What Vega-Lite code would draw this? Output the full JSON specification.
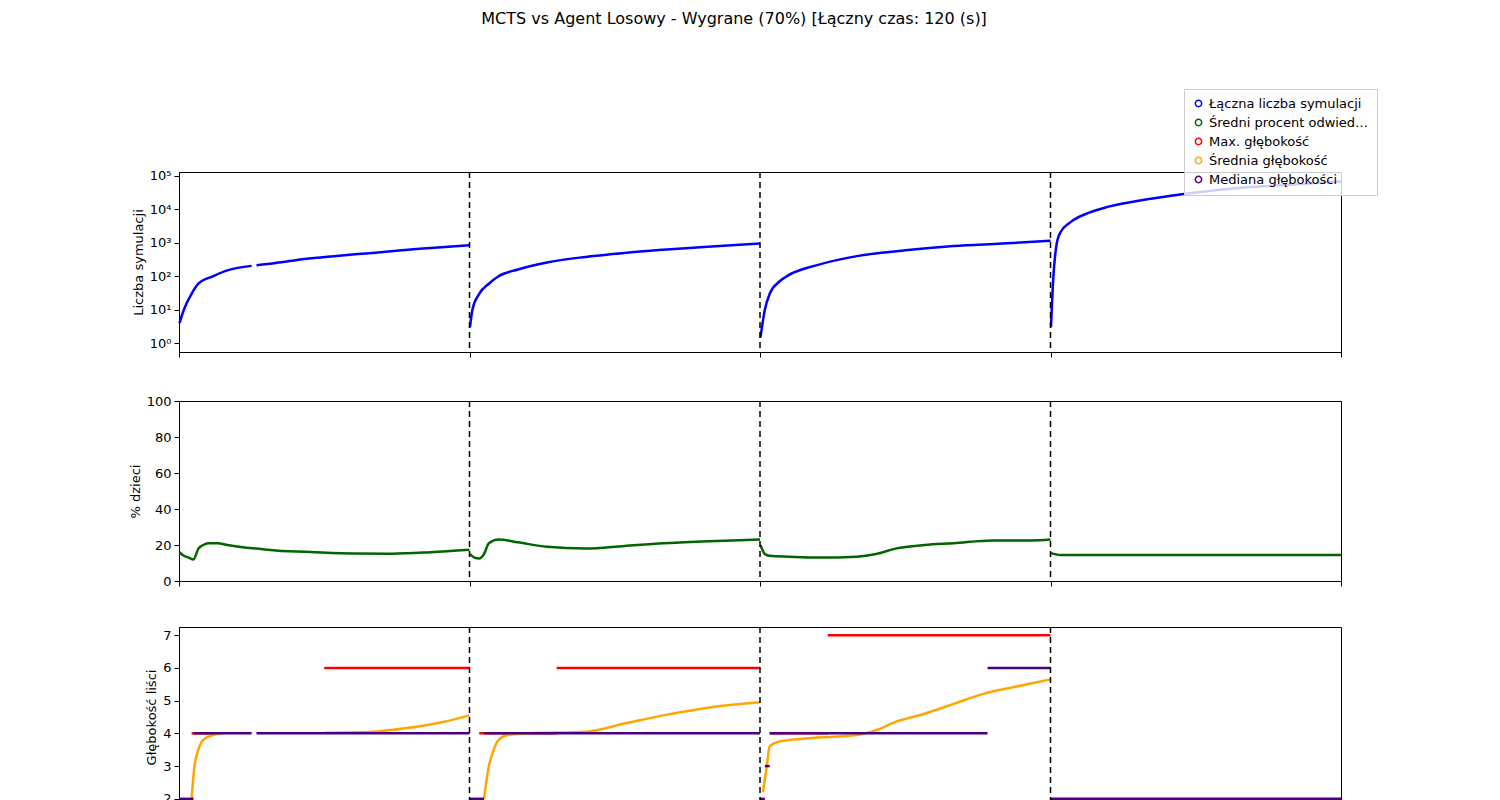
{
  "$schema": "https://vega.github.io/schema/vega-lite/v6.json",
  "padding": {"left": 128, "top": 10, "right": 5, "bottom": 5},
  "background": "white",
  "config": {
    "font": "DejaVu Sans",
    "view": {"stroke": "black", "strokeWidth": 1},
    "axis": {"grid": false, "domainColor": "black", "tickColor": "black", "labelColor": "black", "titleColor": "black", "labelFontSize": 13, "titleFontSize": 13, "titleFontWeight": "normal", "tickSize": 5, "labelPadding": 3}
  },
  "title": {"text": "MCTS vs Agent Losowy - Wygrane (70%) [Łączny czas: 120 (s)]", "fontSize": 16, "fontWeight": "normal", "anchor": "middle", "offset": 62, "dx": -19},
  "spacing": 36,
  "datasets": {
    "sim": [
      {"s":"L","g":"1","t":0.05,"v":4},{"s":"L","g":"1","t":0.5,"v":10},{"s":"L","g":"1","t":1.3,"v":30},{"s":"L","g":"1","t":2,"v":60},{"s":"L","g":"1","t":3.5,"v":100},{"s":"L","g":"1","t":5,"v":150},{"s":"L","g":"1","t":7.5,"v":205},
      {"s":"L","g":"1b","t":8,"v":215},{"s":"L","g":"1b","t":10,"v":250},{"s":"L","g":"1b","t":13,"v":330},{"s":"L","g":"1b","t":16,"v":400},{"s":"L","g":"1b","t":20,"v":500},{"s":"L","g":"1b","t":23,"v":600},{"s":"L","g":"1b","t":26,"v":700},{"s":"L","g":"1b","t":30,"v":850},
      {"s":"L","g":"2","t":30.05,"v":3},{"s":"L","g":"2","t":30.3,"v":10},{"s":"L","g":"2","t":31,"v":30},{"s":"L","g":"2","t":32,"v":60},{"s":"L","g":"2","t":33,"v":100},{"s":"L","g":"2","t":35,"v":160},{"s":"L","g":"2","t":38,"v":260},{"s":"L","g":"2","t":42,"v":380},{"s":"L","g":"2","t":46,"v":500},{"s":"L","g":"2","t":50,"v":620},{"s":"L","g":"2","t":55,"v":780},{"s":"L","g":"2","t":60,"v":950},
      {"s":"L","g":"3","t":60.05,"v":1.5},{"s":"L","g":"3","t":60.5,"v":10},{"s":"L","g":"3","t":61,"v":30},{"s":"L","g":"3","t":62,"v":70},{"s":"L","g":"3","t":63,"v":110},{"s":"L","g":"3","t":66,"v":220},{"s":"L","g":"3","t":70,"v":400},{"s":"L","g":"3","t":75,"v":600},{"s":"L","g":"3","t":80,"v":800},{"s":"L","g":"3","t":85,"v":950},{"s":"L","g":"3","t":90,"v":1150},
      {"s":"L","g":"4","t":90.05,"v":3},{"s":"L","g":"4","t":90.3,"v":100},{"s":"L","g":"4","t":90.6,"v":800},{"s":"L","g":"4","t":91,"v":2000},{"s":"L","g":"4","t":92,"v":4000},{"s":"L","g":"4","t":94,"v":8000},{"s":"L","g":"4","t":96,"v":12000},{"s":"L","g":"4","t":100,"v":20000},{"s":"L","g":"4","t":105,"v":32000},{"s":"L","g":"4","t":110,"v":45000},{"s":"L","g":"4","t":115,"v":55000},{"s":"L","g":"4","t":120,"v":68000}
    ],
    "pct": [
      {"s":"S","g":"1","t":0.05,"v":16},{"s":"S","g":"1","t":0.5,"v":14},{"s":"S","g":"1","t":1,"v":13},{"s":"S","g":"1","t":1.5,"v":12},{"s":"S","g":"1","t":2,"v":18},{"s":"S","g":"1","t":2.5,"v":20},{"s":"S","g":"1","t":3,"v":21},{"s":"S","g":"1","t":4,"v":21},{"s":"S","g":"1","t":5,"v":20},{"s":"S","g":"1","t":7,"v":18.5},{"s":"S","g":"1","t":8,"v":18},{"s":"S","g":"1","t":10,"v":17},{"s":"S","g":"1","t":14,"v":16},{"s":"S","g":"1","t":18,"v":15.3},{"s":"S","g":"1","t":22,"v":15.2},{"s":"S","g":"1","t":26,"v":16},{"s":"S","g":"1","t":30,"v":17.3},
      {"s":"S","g":"2","t":30.05,"v":15},{"s":"S","g":"2","t":30.5,"v":13},{"s":"S","g":"2","t":31,"v":12.5},{"s":"S","g":"2","t":31.5,"v":15},{"s":"S","g":"2","t":32,"v":21},{"s":"S","g":"2","t":33,"v":23},{"s":"S","g":"2","t":35,"v":21.5},{"s":"S","g":"2","t":38,"v":19},{"s":"S","g":"2","t":42,"v":18},{"s":"S","g":"2","t":46,"v":19.5},{"s":"S","g":"2","t":50,"v":21},{"s":"S","g":"2","t":54,"v":22},{"s":"S","g":"2","t":60,"v":23},
      {"s":"S","g":"3","t":60.05,"v":20},{"s":"S","g":"3","t":60.5,"v":15},{"s":"S","g":"3","t":61,"v":14},{"s":"S","g":"3","t":63,"v":13.5},{"s":"S","g":"3","t":66,"v":13},{"s":"S","g":"3","t":70,"v":13.5},{"s":"S","g":"3","t":72,"v":15},{"s":"S","g":"3","t":74,"v":18},{"s":"S","g":"3","t":77,"v":20},{"s":"S","g":"3","t":80,"v":21},{"s":"S","g":"3","t":84,"v":22.5},{"s":"S","g":"3","t":88,"v":22.5},{"s":"S","g":"3","t":90,"v":23},
      {"s":"S","g":"4","t":90.05,"v":15.5},{"s":"S","g":"4","t":91,"v":14.5},{"s":"S","g":"4","t":120,"v":14.5}
    ],
    "depth": [
      {"s":"M","g":"m1a","t":1.3,"v":4},{"s":"M","g":"m1a","t":4,"v":4},
      {"s":"M","g":"m1b","t":15,"v":6},{"s":"M","g":"m1b","t":30,"v":6},
      {"s":"M","g":"m2a","t":31,"v":4},{"s":"M","g":"m2a","t":39,"v":4},
      {"s":"M","g":"m2b","t":39,"v":6},{"s":"M","g":"m2b","t":60,"v":6},
      {"s":"M","g":"m3a","t":61,"v":4},{"s":"M","g":"m3a","t":67,"v":4},
      {"s":"M","g":"m3b","t":67,"v":7},{"s":"M","g":"m3b","t":90,"v":7},
      {"s":"A","g":"a1a","t":1.3,"v":2},{"s":"A","g":"a1a","t":1.6,"v":3},{"s":"A","g":"a1a","t":2,"v":3.5},{"s":"A","g":"a1a","t":2.5,"v":3.8},{"s":"A","g":"a1a","t":3.5,"v":3.95},{"s":"A","g":"a1a","t":4.5,"v":4},
      {"s":"A","g":"a1b","t":15,"v":4.02},{"s":"A","g":"a1b","t":20,"v":4.05},{"s":"A","g":"a1b","t":24,"v":4.18},{"s":"A","g":"a1b","t":27,"v":4.33},{"s":"A","g":"a1b","t":30,"v":4.55},
      {"s":"A","g":"a2","t":31.5,"v":2},{"s":"A","g":"a2","t":32,"v":3},{"s":"A","g":"a2","t":32.5,"v":3.5},{"s":"A","g":"a2","t":33,"v":3.8},{"s":"A","g":"a2","t":34,"v":3.95},{"s":"A","g":"a2","t":36,"v":4},{"s":"A","g":"a2","t":42,"v":4.05},{"s":"A","g":"a2","t":46,"v":4.3},{"s":"A","g":"a2","t":50,"v":4.55},{"s":"A","g":"a2","t":55,"v":4.8},{"s":"A","g":"a2","t":60,"v":4.95},
      {"s":"A","g":"a3","t":60.3,"v":2.2},{"s":"A","g":"a3","t":60.7,"v":3},{"s":"A","g":"a3","t":61,"v":3.6},{"s":"A","g":"a3","t":62,"v":3.75},{"s":"A","g":"a3","t":65,"v":3.85},{"s":"A","g":"a3","t":70,"v":3.95},{"s":"A","g":"a3","t":72,"v":4.1},{"s":"A","g":"a3","t":74,"v":4.35},{"s":"A","g":"a3","t":77,"v":4.6},{"s":"A","g":"a3","t":80,"v":4.9},{"s":"A","g":"a3","t":83,"v":5.2},{"s":"A","g":"a3","t":86,"v":5.4},{"s":"A","g":"a3","t":90,"v":5.65},
      {"s":"D","g":"d1a","t":0,"v":2},{"s":"D","g":"d1a","t":1.5,"v":2},
      {"s":"D","g":"d1b","t":1.5,"v":4},{"s":"D","g":"d1b","t":7.5,"v":4},
      {"s":"D","g":"d1c","t":8,"v":4},{"s":"D","g":"d1c","t":30,"v":4},
      {"s":"D","g":"d2a","t":30,"v":2},{"s":"D","g":"d2a","t":31.5,"v":2},
      {"s":"D","g":"d2b","t":31.5,"v":4},{"s":"D","g":"d2b","t":60,"v":4},
      {"s":"D","g":"d3a","t":60,"v":2},{"s":"D","g":"d3a","t":60.5,"v":2},
      {"s":"D","g":"d3b","t":60.5,"v":3},{"s":"D","g":"d3b","t":61,"v":3},
      {"s":"D","g":"d3c","t":61,"v":4},{"s":"D","g":"d3c","t":83.5,"v":4},
      {"s":"D","g":"d3d","t":83.5,"v":6},{"s":"D","g":"d3d","t":90,"v":6},
      {"s":"D","g":"d4","t":90,"v":2},{"s":"D","g":"d4","t":120,"v":2}
    ],
    "rules": [{"x":30},{"x":60},{"x":90}]
  },
  "vconcat": [
    {
      "width": 1162, "height": 180,
      "layer": [
        {
          "data": {"name": "sim"},
          "mark": {"type": "line", "strokeWidth": 2.5, "interpolate": "monotone"},
          "encoding": {
            "x": {"field": "t", "type": "quantitative", "scale": {"domain": [0, 120], "nice": false}, "axis": {"values": [0,30,60,90,120], "labels": false, "title": null}},
            "y": {"field": "v", "type": "quantitative", "scale": {"type": "log", "domain": [0.55, 130000], "nice": false}, "axis": {"values": [1,10,100,1000,10000,100000], "labelExpr": "'10' + ['⁰','¹','²','³','⁴','⁵'][round(log(datum.value)/LN10)]", "title": "Liczba symulacji"}},
            "detail": {"field": "g"},
            "color": {
              "field": "s", "type": "nominal",
              "scale": {"domain": ["L","S","M","A","D"], "range": ["#0000ff","#006400","#ff0000","#ffa500","#4b0082"]},
              "legend": {
                "title": null, "orient": "none", "legendX": 1005, "legendY": -83,
                "symbolType": "circle", "symbolSize": 40, "labelFontSize": 13, "rowPadding": 5,
                "fillColor": "rgba(255,255,255,0.8)", "strokeColor": "#cccccc", "padding": 8,
                "labelExpr": "({'L':'Łączna liczba symulacji','S':'Średni procent odwiedzonych dzieci','M':'Max. głębokość','A':'Średnia głębokość','D':'Mediana głębokości'})[datum.value]"
              }
            }
          }
        },
        {
          "data": {"name": "rules"},
          "mark": {"type": "rule", "color": "black", "strokeDash": [6, 4], "strokeWidth": 1.5},
          "encoding": {"x": {"field": "x", "type": "quantitative"}}
        }
      ]
    },
    {
      "width": 1162, "height": 180,
      "layer": [
        {
          "data": {"name": "pct"},
          "mark": {"type": "line", "strokeWidth": 2.5, "interpolate": "monotone"},
          "encoding": {
            "x": {"field": "t", "type": "quantitative", "scale": {"domain": [0, 120], "nice": false}, "axis": {"values": [0,30,60,90,120], "labels": false, "title": null}},
            "y": {"field": "v", "type": "quantitative", "scale": {"domain": [0, 100], "nice": false}, "axis": {"values": [0,20,40,60,80,100], "title": "% dzieci"}},
            "detail": {"field": "g"},
            "color": {"field": "s", "type": "nominal"}
          }
        },
        {
          "data": {"name": "rules"},
          "mark": {"type": "rule", "color": "black", "strokeDash": [6, 4], "strokeWidth": 1.5},
          "encoding": {"x": {"field": "x", "type": "quantitative"}}
        }
      ]
    },
    {
      "width": 1162, "height": 180,
      "layer": [
        {
          "data": {"name": "depth"},
          "mark": {"type": "line", "strokeWidth": 2.5, "interpolate": "monotone"},
          "encoding": {
            "x": {"field": "t", "type": "quantitative", "scale": {"domain": [0, 120], "nice": false}, "axis": {"values": [0,30,60,90,120], "title": "Czas [s]"}},
            "y": {"field": "v", "type": "quantitative", "scale": {"domain": [1.75, 7.25], "nice": false}, "axis": {"values": [2,3,4,5,6,7], "title": "Głębokość liści"}},
            "detail": {"field": "g"},
            "color": {"field": "s", "type": "nominal"}
          }
        },
        {
          "data": {"name": "rules"},
          "mark": {"type": "rule", "color": "black", "strokeDash": [6, 4], "strokeWidth": 1.5},
          "encoding": {"x": {"field": "x", "type": "quantitative"}}
        }
      ]
    }
  ],
  "resolve": {"scale": {"color": "shared"}}
}
